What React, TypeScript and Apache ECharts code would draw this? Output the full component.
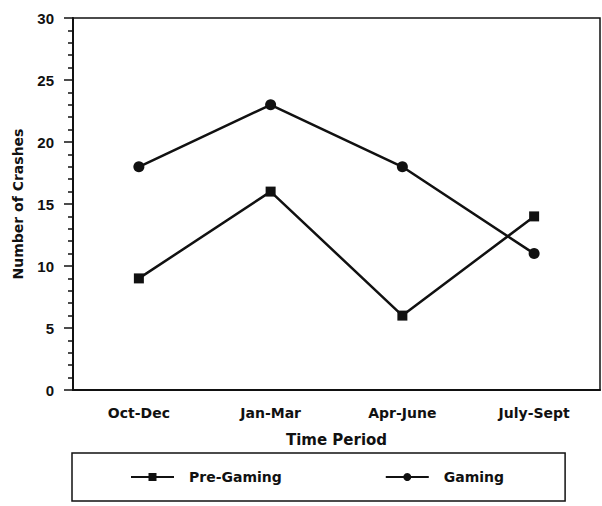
import React, { useEffect, useRef } from "react";
import * as echarts from "echarts";

const categories = ["Oct-Dec", "Jan-Mar", "Apr-June", "July-Sept"];
const preGaming = [9, 16, 6, 14];
const gaming = [18, 23, 18, 11];
const seriesNames = ["Pre-Gaming", "Gaming"];

const INK = "#111";
const BOLD_FONT = "DejaVu Sans";

export default function App() {
  const ref = useRef<HTMLDivElement>(null);
  useEffect(() => {
    if (!ref.current) return;
    const chart = echarts.init(ref.current, null, { renderer: "svg" });
    chart.setOption({
      animation: false,
      backgroundColor: "#fff",
      grid: {
        left: 73,
        right: 2,
        top: 18,
        bottom: 116,
        show: true,
        borderColor: INK,
        borderWidth: 1.5,
        backgroundColor: "transparent",
      },
      legend: {
        data: seriesNames,
        left: 72,
        top: 453,
        orient: "horizontal",
        borderColor: INK,
        borderWidth: 1.5,
        padding: [17, 61, 17, 58],
        itemGap: 103,
        itemWidth: 43,
        itemHeight: 10,
        textStyle: {
          fontFamily: BOLD_FONT,
          fontWeight: "bold",
          fontSize: 14,
          color: INK,
          padding: [0, 0, 0, 10],
        },
      },
      xAxis: {
        type: "category",
        data: categories,
        boundaryGap: true,
        name: "Time Period",
        nameLocation: "middle",
        nameGap: 42,
        nameTextStyle: {
          fontFamily: BOLD_FONT,
          fontWeight: "bold",
          fontSize: 15,
          color: INK,
        },
        axisLine: { show: true, lineStyle: { color: INK, width: 2 } },
        axisTick: { show: false },
        axisLabel: {
          margin: 16,
          fontFamily: BOLD_FONT,
          fontWeight: "bold",
          fontSize: 14,
          color: INK,
        },
        splitLine: { show: false },
      },
      yAxis: {
        type: "value",
        min: 0,
        max: 30,
        interval: 5,
        name: "Number of Crashes",
        nameLocation: "middle",
        nameRotate: 90,
        nameGap: 48,
        nameTextStyle: {
          fontFamily: BOLD_FONT,
          fontWeight: "bold",
          fontSize: 14,
          color: INK,
        },
        axisLine: { show: true, lineStyle: { color: INK, width: 2 } },
        axisTick: { show: true, inside: false, length: 9, lineStyle: { color: INK, width: 1.5 } },
        minorTick: { show: true, splitNumber: 5, length: 5, lineStyle: { color: INK, width: 1.5 } },
        axisLabel: {
          margin: 19,
          fontFamily: "Liberation Sans",
          fontWeight: "bold",
          fontSize: 15,
          color: INK,
        },
        splitLine: { show: false },
      },
      series: [
        {
          name: seriesNames[0],
          type: "line",
          data: preGaming,
          symbol: "rect",
          symbolSize: 10,
          itemStyle: { color: INK },
          lineStyle: { color: INK, width: 2.5 },
        },
        {
          name: seriesNames[1],
          type: "line",
          data: gaming,
          symbol: "circle",
          symbolSize: 11,
          itemStyle: { color: INK },
          lineStyle: { color: INK, width: 2.5 },
        },
      ],
    });
    return () => chart.dispose();
  }, []);
  return (
    <div
      ref={ref}
      style={{ position: "fixed", left: 0, top: 0, width: 602, height: 506, background: "#fff" }}
    />
  );
}
